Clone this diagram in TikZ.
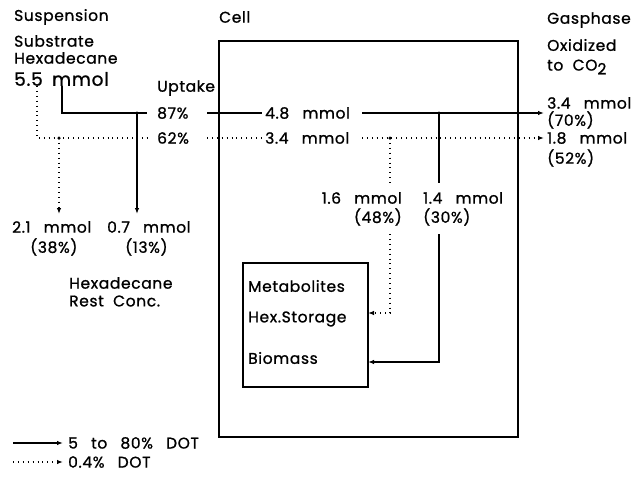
\documentclass[tikz,border=0pt]{standalone}
\usepackage{fontspec}
\setmainfont{Poppins}[LetterSpace=4,FakeBold=1]
\usetikzlibrary{arrows.meta}
\newcommand{\gp}{\hspace{0.85em}}
\begin{document}
\begin{tikzpicture}[x=1pt,y=-1pt,
  txt/.style={inner sep=0pt, anchor=west, font=\fontsize{15.5}{17}\selectfont},
  big/.style={inner sep=0pt, anchor=west, font=\fontsize{18.5}{20}\selectfont},
  flow/.style={line width=1.2pt},
  dflow/.style={line width=1.3pt, dash pattern=on 0.9pt off 4pt},
  tip/.style={-{Latex[length=6pt,width=4.5pt]}},
  jdot/.style={circle, fill=black, inner sep=0pt, minimum size=3.5pt}]
\useasboundingbox (0,0) rectangle (641,477);
% boxes
\draw[line width=1.2pt] (219,41) rectangle (518,437);
\draw[line width=1.2pt] (243,263) rectangle (368,387);
% texts
\node[txt] (susp) at (14,17) {Suspension};
\node[txt] (cell) at (219,17) {Cell};
\node[txt] (gas) at (547,20) {Gasphase};
\node[txt] (sub) at (14,41) {Substrate};
\node[txt] (hexa) at (14,58) {Hexadecane};
\node[big] (s55) at (14,79) {5.5\hspace{0.5em}mmol};
\node[txt] (upt) at (157,88) {Uptake};
\node[txt] (p87) at (157,113) {87\%};
\node[txt] (p62) at (157,138) {62\%};
\node[txt] (m48) at (265,113) {4.8\gp mmol};
\node[txt] (m34) at (265,138) {3.4\gp mmol};
\node[txt] (oxi) at (547,45) {Oxidized};
\node[txt] (toco) at (547,67) {to\hspace{0.6em}CO\raisebox{-0.45ex}{2}};
\node[txt] (o34) at (547,103) {3.4\gp mmol};
\node[txt] (o70) at (547,120) {(70\%)};
\node[txt] (o18) at (547,138) {1.8\gp mmol};
\node[txt] (o52) at (547,158) {(52\%)};
\node[txt] (r21) at (12,227) {2.1\gp mmol};
\node[txt] (r38) at (30,247) {(38\%)};
\node[txt] (r07) at (107,227) {0.7\gp mmol};
\node[txt] (r13) at (125,247) {(13\%)};
\node[txt] (hr1) at (69,283) {Hexadecane};
\node[txt] (hr2) at (69,301) {Rest\hspace{0.6em}Conc.};
\node[txt,anchor=east] (c16) at (402,198) {1.6\gp mmol};
\node[txt,anchor=east] (c48) at (402,217) {(48\%)};
\node[txt] (c14) at (423,198) {1.4\gp mmol};
\node[txt] (c30) at (423,217) {(30\%)};
\node[txt] (met) at (248,286) {Metabolites};
\node[txt] (hst) at (248,319) {Hex.Storage};
\node[txt] (bio) at (248,358) {Biomass};
\node[txt] (lg1) at (68,443) {5\gp to\gp 80\%\gp DOT};
\node[txt] (lg2) at (68,462) {0.4\%\gp DOT};
% coordinates
\coordinate (a0) at (62,86);
\coordinate (a1) at (62,113);
\coordinate (a2) at (147,113);
\coordinate (ja) at (137,113);
\coordinate (ra) at (137,214);
\coordinate (a3) at (207,113);
\coordinate (a4) at (262,113);
\coordinate (a5) at (362,113);
\coordinate (a6) at (544,113);
\coordinate (jb) at (439,113);
\coordinate (b1) at (439,183);
\coordinate (b2) at (439,234);
\coordinate (b3) at (439,362);
\coordinate (b4) at (368,362);
\coordinate (d0) at (37,86);
\coordinate (d1) at (37,138);
\coordinate (d2) at (147,138);
\coordinate (jd) at (59,138);
\coordinate (rd) at (59,214);
\coordinate (d3) at (207,138);
\coordinate (d4) at (262,138);
\coordinate (d5) at (362,138);
\coordinate (d6) at (544,138);
\coordinate (je) at (390,138);
\coordinate (e1) at (390,183);
\coordinate (e2) at (390,234);
\coordinate (e3) at (390,313);
\coordinate (e4) at (368,313);
\coordinate (l1a) at (13,443);
\coordinate (l1b) at (63,443);
\coordinate (l2a) at (13,462);
\coordinate (l2b) at (63,462);
% solid flows
\draw[flow] (a0) -- (a1) -- (a2);
\draw[flow,tip] (ja) -- (ra);
\draw[flow] (a3) -- (a4);
\draw[flow,tip] (a5) -- (a6);
\draw[flow] (jb) -- (b1);
\draw[flow,tip] (b2) -- (b3) -- (b4);
\node[jdot] at (ja) {};
\node[jdot] at (jb) {};
% dotted flows
\draw[dflow] (d0) -- (d1) -- (d2);
\draw[dflow,tip] (jd) -- (rd);
\draw[dflow] (d3) -- (d4);
\draw[dflow,tip] (d5) -- (d6);
\draw[dflow] (je) -- (e1);
\draw[dflow,tip] (e2) -- (e3) -- (e4);
\node[jdot] at (jd) {};
\node[jdot] at (je) {};
% legend
\draw[flow,tip] (l1a) -- (l1b);
\draw[dflow,tip] (l2a) -- (l2b);
\end{tikzpicture}
\end{document}
